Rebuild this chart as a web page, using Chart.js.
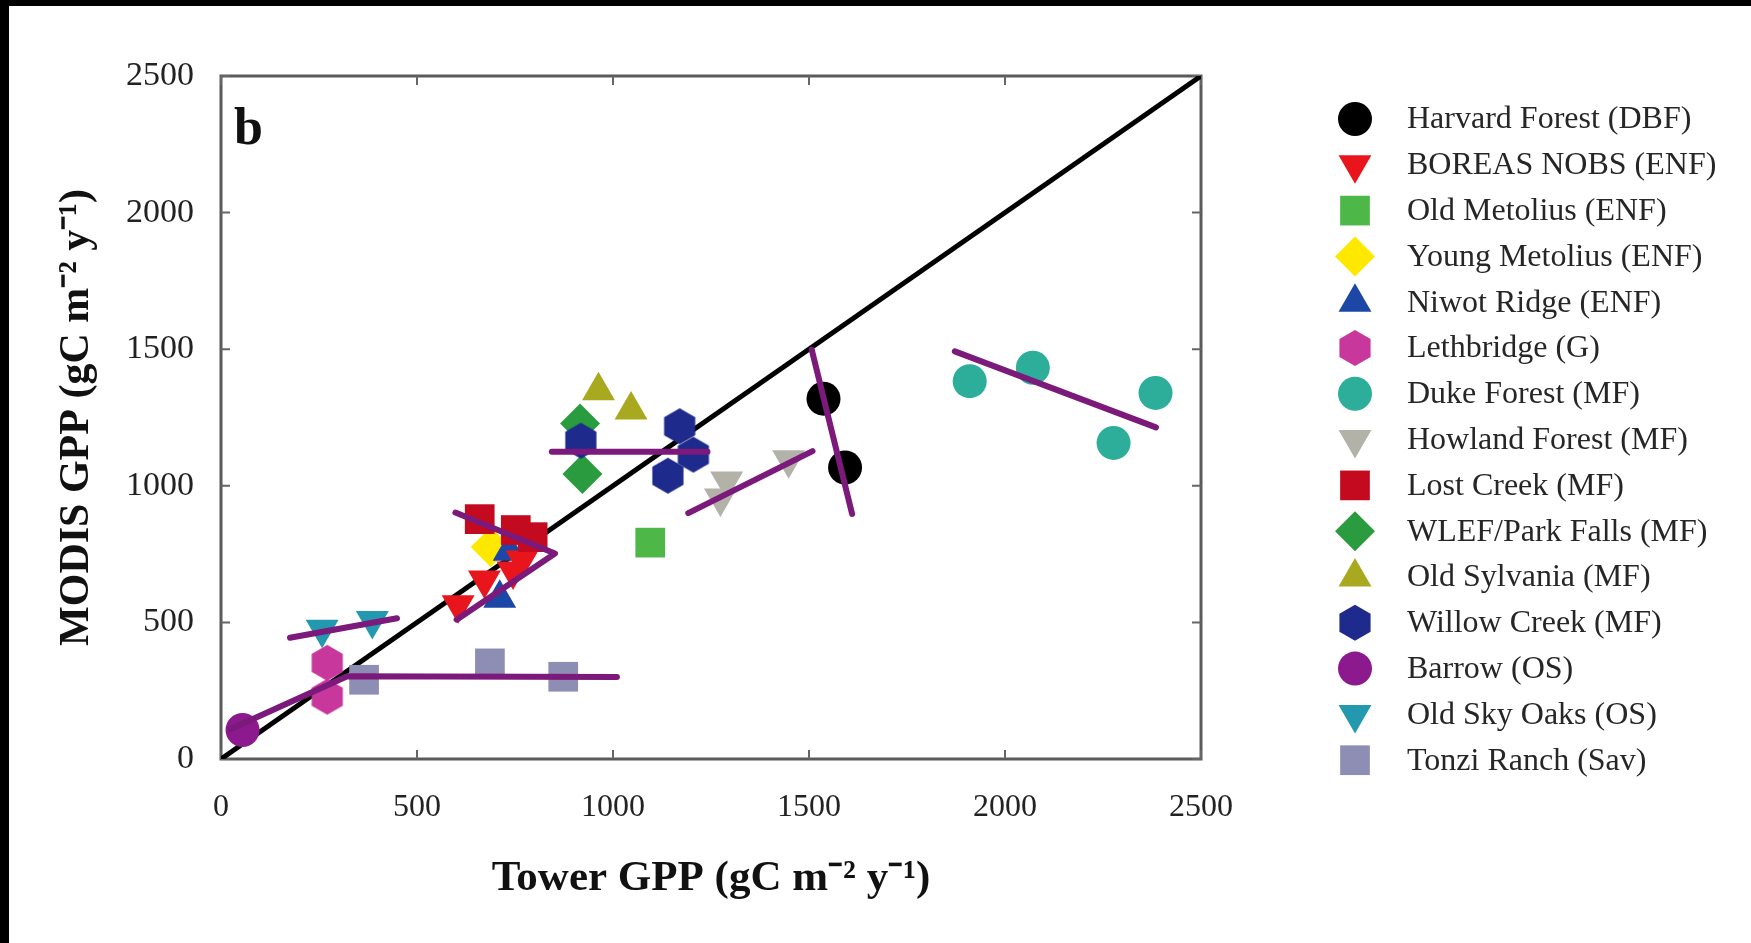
<!DOCTYPE html>
<html><head><meta charset="utf-8">
<script src="https://cdn.jsdelivr.net/npm/chart.js@4.4.1/dist/chart.umd.min.js"></script>
<style>
html,body{margin:0;padding:0;background:#fff;}
#wrap{position:relative;width:1751px;height:943px;overflow:hidden;background:#fff;}
#c{position:absolute;left:0;top:0;}
#topbar{position:absolute;left:0;top:0;width:1751px;height:6px;background:#000;z-index:2}
#leftbar{position:absolute;left:0;top:0;width:9px;height:943px;background:#000;z-index:2}
</style></head><body>
<div id="wrap"><canvas id="c" width="1751" height="943"></canvas><div id="topbar"></div><div id="leftbar"></div></div>
<script>
// ---- data (Tower GPP, MODIS GPP) ----
const tickValues = [0, 500, 1000, 1500, 2000, 2500];
const siteNames = [
  'Harvard Forest (DBF)', 'BOREAS NOBS (ENF)', 'Old Metolius (ENF)', 'Young Metolius (ENF)',
  'Niwot Ridge (ENF)', 'Lethbridge (G)', 'Duke Forest (MF)', 'Howland Forest (MF)',
  'Lost Creek (MF)', 'WLEF/Park Falls (MF)', 'Old Sylvania (MF)', 'Willow Creek (MF)',
  'Barrow (OS)', 'Old Sky Oaks (OS)', 'Tonzi Ranch (Sav)'
];
const harvardForest  = [[1537, 1319], [1592, 1067]];
const boreasNobs     = [[605, 565], [672, 655], [745, 688], [768, 728]];
const oldMetolius    = [[1095, 792]];
const youngMetolius  = [[688, 776]];
const niwotRidge     = [[711, 588], [735, 760]];
const lethbridge     = [[271, 352], [271, 228]];
const dukeForest     = [[1910, 1383], [2071, 1432], [2277, 1157], [2384, 1340]];
const howlandForest  = [[1290, 1018], [1274, 955], [1448, 1095]];
const lostCreek      = [[660, 878], [752, 838], [795, 812]];
const wlefParkFalls  = [[916, 1228], [922, 1043]];
const oldSylvania    = [[963, 1348], [1046, 1277]];
const willowCreek    = [[918, 1165], [1170, 1218], [1205, 1114], [1140, 1037]];
const barrow         = [[55, 106]];
const oldSkyOaks     = [[258, 475], [386, 507]];
const tonziRanch     = [[365, 290], [686, 350], [873, 301]];
const oneToOne       = [[0, 0], [2500, 2500]];
// hand-drawn purple annotation strokes
const markA = [[25, 110], [322, 303], [1010, 300]];
const markB = [[176, 444], [449, 515]];
const markC = [[598, 902], [852, 752], [601, 510]];
const markD = [[844, 1125], [1241, 1125]];
const markE = [[1192, 900], [1509, 1127]];
const markF = [[1507, 1498], [1610, 897]];
const markG = [[1872, 1492], [2385, 1214]];

const toXY = arr => arr.map(p => ({x: p[0], y: p[1]}));

function hexImage(r, color) {
  const c = document.createElement('canvas');
  const s = Math.ceil(2 * r + 2);
  c.width = s; c.height = s;
  const g = c.getContext('2d');
  g.fillStyle = color;
  g.beginPath();
  for (let i = 0; i < 6; i++) {
    const a = Math.PI / 6 + i * Math.PI / 3;
    const px = s / 2 + r * Math.cos(a), py = s / 2 + r * Math.sin(a);
    i ? g.lineTo(px, py) : g.moveTo(px, py);
  }
  g.closePath(); g.fill();
  return c;
}

const siteStyles = [
  {data: harvardForest, color: '#000000', style: 'circle', r: 17, rot: 0},
  {data: boreasNobs,    color: '#E8161C', style: 'triangle', r: 19, rot: 180},
  {data: oldMetolius,   color: '#4DB848', style: 'rect', r: 21, rot: 0},
  {data: youngMetolius, color: '#FFE800', style: 'rectRot', r: 20, rot: 0},
  {data: niwotRidge,    color: '#1C47A6', style: 'triangle', r: 19, rot: 0},
  {data: lethbridge,    color: '#C8389C', style: 'hex', r: 18, rot: 0},
  {data: dukeForest,    color: '#2CAE9B', style: 'circle', r: 17, rot: 0},
  {data: howlandForest, color: '#B3B2A9', style: 'triangle', r: 19, rot: 180},
  {data: lostCreek,     color: '#C40A1F', style: 'rect', r: 21, rot: 0},
  {data: wlefParkFalls, color: '#2A9B3E', style: 'rectRot', r: 20, rot: 0},
  {data: oldSylvania,   color: '#A9A91F', style: 'triangle', r: 19, rot: 0},
  {data: willowCreek,   color: '#1E2A8C', style: 'hex', r: 18, rot: 0},
  {data: barrow,        color: '#8C1A8E', style: 'circle', r: 17, rot: 0},
  {data: oldSkyOaks,    color: '#2399B0', style: 'triangle', r: 19, rot: 180},
  {data: tonziRanch,    color: '#8E8DB4', style: 'rect', r: 21, rot: 0}
];
const orderOverride = {3: 120, 4: 118};

const datasets = [];
siteStyles.forEach((s, i) => {
  const ps = s.style === 'hex' ? hexImage(s.r, s.color) : s.style;
  datasets.push({
    label: siteNames[i], data: toXY(s.data), isSite: true, legendStyle: s,
    pointStyle: ps, pointRadius: s.r, pointRotation: s.rot,
    backgroundColor: s.color, borderColor: s.color, borderWidth: 0,
    order: orderOverride[i] !== undefined ? orderOverride[i] : 100 - i
  });
});
datasets.push({label: '1:1', data: toXY(oneToOne), showLine: true, pointRadius: 0,
  borderColor: '#000', borderWidth: 5, order: 300});
[markA, markB, markC, markD, markE, markF, markG].forEach((m, k) => {
  datasets.push({label: 'mark' + k, data: toXY(m), showLine: true, pointRadius: 0,
    borderColor: '#7B1A7A', borderWidth: 6, borderCapStyle: 'round', borderJoinStyle: 'round', order: -10});
});

const serif = '"Liberation Serif","Times New Roman",serif';

function drawMarker(ctx, s, x, y) {
  ctx.save();
  ctx.fillStyle = s.color;
  ctx.translate(x, y);
  ctx.rotate(s.rot * Math.PI / 180);
  ctx.beginPath();
  const r = s.r;
  if (s.style === 'circle') ctx.arc(0, 0, r, 0, Math.PI * 2);
  else if (s.style === 'triangle') {
    for (let i = 0; i < 3; i++) { const a = i * 2 * Math.PI / 3; const px = Math.sin(a) * r, py = -Math.cos(a) * r; i ? ctx.lineTo(px, py) : ctx.moveTo(px, py); }
  } else if (s.style === 'rect') { const h = r * Math.SQRT1_2; ctx.rect(-h, -h, 2 * h, 2 * h); }
  else if (s.style === 'rectRot') { ctx.moveTo(0, -r); ctx.lineTo(r, 0); ctx.lineTo(0, r); ctx.lineTo(-r, 0); }
  else if (s.style === 'hex') { for (let i = 0; i < 6; i++) { const a = Math.PI / 6 + i * Math.PI / 3; const px = r * Math.cos(a), py = r * Math.sin(a); i ? ctx.lineTo(px, py) : ctx.moveTo(px, py); } }
  ctx.closePath(); ctx.fill();
  ctx.restore();
}

const framePlugin = {
  id: 'frameTicks',
  beforeDatasetsDraw(chart) {
    const {ctx, chartArea: a, scales: {x, y}} = chart;
    ctx.save();
    ctx.strokeStyle = '#5a5a5a'; ctx.lineWidth = 3;
    ctx.strokeRect(a.left, a.top, a.right - a.left, a.bottom - a.top);
    ctx.lineWidth = 2; ctx.strokeStyle = '#666';
    const L = 9;
    tickValues.forEach(v => {
      const px = x.getPixelForValue(v), py = y.getPixelForValue(v);
      ctx.beginPath();
      ctx.moveTo(px, a.bottom); ctx.lineTo(px, a.bottom - L);
      ctx.moveTo(px, a.top); ctx.lineTo(px, a.top + L);
      ctx.moveTo(a.left, py); ctx.lineTo(a.left + L, py);
      ctx.moveTo(a.right, py); ctx.lineTo(a.right - L, py);
      ctx.stroke();
    });
    ctx.restore();
  },
  afterDraw(chart) {
    const {ctx, chartArea: a} = chart;
    ctx.save();
    ctx.fillStyle = '#111';
    ctx.font = 'bold 52px ' + serif;
    ctx.textBaseline = 'alphabetic';
    ctx.fillText('b', a.left + 13, a.top + 68);
    // legend
    ctx.font = '32px ' + serif;
    ctx.textBaseline = 'middle';
    chart.data.datasets.filter(d => d.isSite).forEach((d, i) => {
      const yy = 119 + i * 45.8;
      drawMarker(ctx, d.legendStyle, 1355, yy);
      ctx.fillStyle = '#262626';
      ctx.fillText(d.label, 1407, yy + 1);
    });
    ctx.restore();
  }
};

Chart.defaults.font.family = serif;
new Chart(document.getElementById('c'), {
  type: 'scatter',
  data: {datasets},
  options: {
    responsive: false, animation: false, events: [],
    layout: {padding: {left: 0, right: 550, top: 76, bottom: 0}},
    plugins: {legend: {display: false}, tooltip: {enabled: false}},
    scales: {
      x: {
        type: 'linear', min: 0, max: 2500,
        afterBuildTicks: s => { s.ticks = tickValues.map(v => ({value: v})); },
        afterFit: s => { s.height = 184; },
        grid: {display: false}, border: {display: false},
        ticks: {color: '#222', font: {size: 32}, padding: 21, maxRotation: 0, callback: v => String(v)},
        title: {display: true, text: 'Tower GPP (gC m\u207B\u00B2 y\u207B\u00B9)', color: '#111',
          font: {size: 43, weight: 'bold'}, padding: {top: 0, bottom: 38}}
      },
      y: {
        type: 'linear', min: 0, max: 2500,
        afterBuildTicks: s => { s.ticks = tickValues.map(v => ({value: v})); },
        afterFit: s => { s.width = 221; },
        grid: {display: false}, border: {display: false},
        ticks: {color: '#222', font: {size: 34}, padding: 19, callback: v => String(v)},
        title: {display: true, text: 'MODIS GPP (gC m\u207B\u00B2 y\u207B\u00B9)', color: '#111',
          font: {size: 42, weight: 'bold'}, padding: {top: 52, bottom: 0}}
      }
    }
  },
  plugins: [framePlugin]
});
</script>
</body></html>
